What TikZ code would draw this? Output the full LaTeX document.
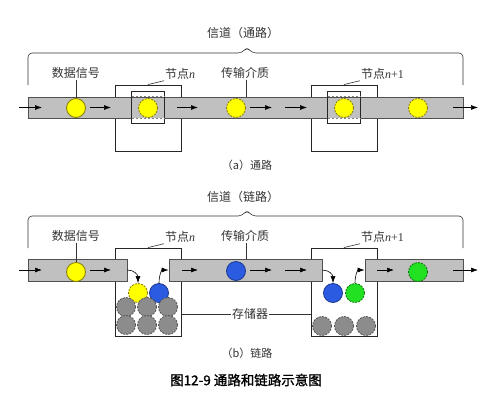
\documentclass[tikz,border=0pt]{standalone}
\usepackage{fontspec}
\setmainfont{Liberation Serif}
\newfontfamily\cjk{Noto Sans CJK SC}
\newfontfamily\cjkcap[FakeBold=1.3]{Noto Sans CJK SC}
\usetikzlibrary{arrows.meta}
\definecolor{barg}{HTML}{C0C0C0}
\definecolor{edgeg}{HTML}{505050}
\definecolor{ylwc}{HTML}{FFFF00}
\definecolor{ylwd}{HTML}{8A7A00}
\definecolor{bluec}{HTML}{2A5BE0}
\definecolor{blued}{HTML}{1A3A90}
\definecolor{greenc}{HTML}{22E022}
\definecolor{greend}{HTML}{127012}
\definecolor{stonec}{HTML}{8C8C8C}
\definecolor{stoned}{HTML}{555555}
\definecolor{txtc}{HTML}{333333}
\newcommand{\nvar}{{\rmfamily\itshape n}}
\begin{document}
\begin{tikzpicture}[x=1pt,y=-1pt,
  bar/.style={draw=edgeg, fill=barg, line width=0.8pt, inner sep=0pt, minimum height=22pt},
  nodebox/.style={draw=black!85, fill=white, line width=0.9pt, inner sep=0pt},
  innerbox/.style={draw=black!85, line width=0.9pt, inner sep=0pt, minimum width=33pt, minimum height=32pt},
  ball/.style={circle, minimum size=19pt, inner sep=0pt, line width=0.8pt},
  ylw/.style={ball, fill=ylwc, draw=ylwd},
  ylwdash/.style={ylw, dashed, dash pattern=on 2pt off 1.2pt},
  blu/.style={ball, fill=bluec, draw=blued},
  grn/.style={ball, fill=greenc, draw=greend, dash pattern=on 2pt off 1.2pt},
  stone/.style={ball, fill=stonec, draw=stoned, dash pattern=on 2pt off 1.2pt},
  flow/.style={-{Latex[length=7pt,width=5pt]}, line width=0.6pt, black},
  lead/.style={draw=txtc, line width=0.6pt},
  lbl/.style={font=\cjk\fontsize{12}{14}\selectfont, text=txtc, inner sep=1pt},
  sub/.style={font=\cjk\fontsize{11}{13}\selectfont, text=txtc, inner sep=1pt},
  captxt/.style={font=\cjkcap\fontsize{13.5}{16}\selectfont, text=black, inner sep=1pt},
  brace/.style={draw=txtc, line width=0.6pt, rounded corners=4pt},
]
\useasboundingbox (0,0) rectangle (488,400);

% ===================== (a) =====================
\node[lbl] (chA) at (243,33) {信道（通路）};
\coordinate (brAl) at (28,85);
\coordinate (brAr) at (463,85);
\coordinate (brAt) at (247,47);
\draw[brace] (brAl) -- (28,53) -- (242,53) -- (brAt) -- (252,53) -- (463,53) -- (brAr);

\node[nodebox, minimum width=66pt, minimum height=66pt] (nA1) at (148,118) {};
\node[nodebox, minimum width=66pt, minimum height=66pt] (nA2) at (344,118) {};
\node[bar, minimum width=435pt, minimum height=21pt] (barA) at (245.5,107.5) {};
\node[innerbox] (iA1) at (148,107) {};
\node[innerbox] (iA2) at (344,107) {};
\foreach \n in {iA1,iA2}{
  \draw[white, line width=0.8pt] ([xshift=0.6pt,yshift=-5.4pt]\n.north west) -- ([xshift=-0.6pt,yshift=-5.4pt]\n.north east);
  \draw[edgeg!70, line width=0.8pt, dash pattern=on 2.5pt off 1.5pt] ([xshift=0.6pt,yshift=-5.4pt]\n.north west) -- ([xshift=-0.6pt,yshift=-5.4pt]\n.north east);
  \draw[white, line width=0.8pt] ([xshift=0.6pt,yshift=5.4pt]\n.south west) -- ([xshift=-0.6pt,yshift=5.4pt]\n.south east);
  \draw[edgeg!70, line width=0.8pt, dash pattern=on 2.5pt off 1.5pt] ([xshift=0.6pt,yshift=5.4pt]\n.south west) -- ([xshift=-0.6pt,yshift=5.4pt]\n.south east);
}

\node[ylw] (yA1) at (76,108) {};
\node[ylwdash] (yA2) at (148,108) {};
\node[ylwdash] (yA3) at (236,108) {};
\node[ylwdash] (yA4) at (344,108) {};
\node[ylwdash] (yA5) at (418,108) {};

\coordinate (aA1s) at (19,107.5); \coordinate (aA1e) at (42,107.5);
\coordinate (aA2s) at (90,107.5); \coordinate (aA2e) at (111,107.5);
\coordinate (aA3s) at (177,107.5); \coordinate (aA3e) at (198,107.5);
\coordinate (aA4s) at (250,107.5); \coordinate (aA4e) at (272,107.5);
\coordinate (aA5s) at (285,107.5); \coordinate (aA5e) at (307,107.5);
\coordinate (aA6s) at (453,107.5); \coordinate (aA6e) at (478,107.5);
\foreach \i in {1,...,6}{ \draw[flow] (aA\i s) -- (aA\i e); }

\node[lbl] (dA) at (76,73) {数据信号};
\draw[lead] (dA.south) -- (yA1.north);
\node[lbl] (mA) at (245,73) {传输介质};
\draw[lead] (mA.south -| 246,0) -- (barA.north -| 246,0);
\node[lbl, anchor=west] (kA1) at (164,74) {节点\nvar};
\draw[lead] (nA1.north) -- (kA1.south west);
\node[lbl, anchor=west] (kA2) at (360,74) {节点\nvar{\rmfamily+1}};
\draw[lead] (nA2.north) -- (kA2.south west);

\node[sub] (capa) at (247,165) {（a）通路};

% ===================== (b) =====================
\node[lbl] (chB) at (243,197) {信道（链路）};
\coordinate (brBl) at (28,248);
\coordinate (brBr) at (463,248);
\coordinate (brBt) at (247,210);
\draw[brace] (brBl) -- (28,216) -- (242,216) -- (brBt) -- (252,216) -- (463,216) -- (brBr);

\node[nodebox, minimum width=66pt, minimum height=88pt] (nB1) at (148,292) {};
\node[nodebox, minimum width=66pt, minimum height=88pt] (nB2) at (344,292) {};
\node[bar, minimum width=99pt] (bB1) at (77.5,270) {};
\node[bar, minimum width=153pt] (bB2) at (245.5,270) {};
\node[bar, minimum width=98pt] (bB3) at (414,270) {};

\node[ylw] (yB1) at (76,272) {};
\node[ylwdash] (yB2) at (138,293) {};
\node[blu] (uB1) at (159,293) {};
\node[blu] (uB2) at (236,271) {};
\node[blu] (uB3) at (333,293) {};
\node[grn] (gB1) at (355,293) {};
\node[grn] (gB2) at (418,272) {};

\foreach \x/\y [count=\k] in {126/307,147/307,168/307,126/325,147/325,168/325}{
  \node[stone] (sB\k) at (\x,\y) {};
}
\foreach \x [count=\k] in {322,344,366}{
  \node[stone] (tB\k) at (\x,326) {};
}

\draw[flow] (bB1.east) .. controls +(7,0) and +(0,-8) .. (yB2.north);
\draw[flow] (uB1.north) .. controls +(0,-8) and +(-7,0) .. (bB2.west);
\draw[flow] (bB2.east) .. controls +(7,0) and +(0,-8) .. (uB3.north);
\draw[flow] (gB1.north) .. controls +(0,-8) and +(-7,0) .. (bB3.west);

\coordinate (aB1s) at (19,270); \coordinate (aB1e) at (42,270);
\coordinate (aB2s) at (90,270); \coordinate (aB2e) at (111,270);
\coordinate (aB3s) at (182,270); \coordinate (aB3e) at (198,270);
\coordinate (aB4s) at (250,270); \coordinate (aB4e) at (272,270);
\coordinate (aB5s) at (285,270); \coordinate (aB5e) at (307,270);
\coordinate (aB6s) at (377,270); \coordinate (aB6e) at (394,270);
\coordinate (aB7s) at (453,270); \coordinate (aB7e) at (478,270);
\foreach \i in {1,...,7}{ \draw[flow] (aB\i s) -- (aB\i e); }

\node[lbl] (dB) at (76,236) {数据信号};
\draw[lead] (dB.south) -- (yB1.north);
\node[lbl] (mB) at (245,236) {传输介质};
\draw[lead] (mB.south -| 246,0) -- (bB2.north -| 246,0);
\node[lbl, anchor=west] (kB1) at (164,237) {节点\nvar};
\draw[lead] (nB1.north) -- (kB1.south west);
\node[lbl, anchor=west] (kB2) at (360,237) {节点\nvar{\rmfamily+1}};
\draw[lead] (nB2.north) -- (kB2.south west);

\node[lbl] (st) at (250,314) {存储器};
\draw[lead] (nB1.east |- st) -- (st.west);
\draw[lead] (st.east) -- (nB2.west |- st);

\node[sub] (capb) at (247,353) {（b）链路};
\node[captxt] (fig) at (246,380) {图12-9\ 通路和链路示意图};
\end{tikzpicture}
\end{document}
